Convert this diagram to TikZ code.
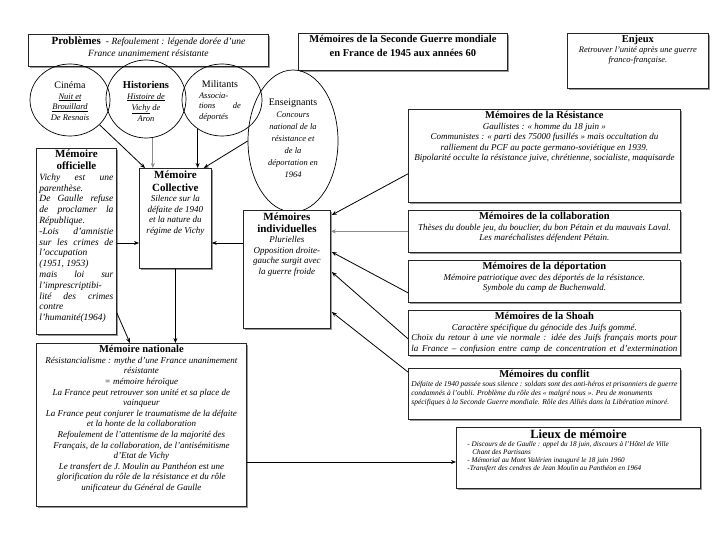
\documentclass[tikz,border=0pt]{standalone}
\usepackage{fontspec}
\setmainfont{Liberation Serif}
\usetikzlibrary{arrows.meta,calc,shapes.geometric,shadows}
\newcommand\ttlfont{\fontsize{10.5}{12.5}\selectfont\bfseries}
\newcommand\bdfont{\fontsize{9}{10.5}\selectfont\itshape}
\newcommand\Jl[1]{\makebox[\linewidth][s]{#1}\par}
\newcommand\Ll[1]{\makebox[\linewidth][l]{#1}\par}
\tikzset{
  box/.style={draw=black!85, line width=0.8pt, fill=white, inner xsep=3pt, inner ysep=0pt,
    anchor=north west, drop shadow={shadow xshift=1.2pt, shadow yshift=-1.2pt, fill=black!40, opacity=1}},
  circ/.style={draw=black, line width=0.7pt, ellipse, inner sep=0pt},
  txt/.style={inner sep=0pt},
  conn/.style={line width=0.8pt, draw=black, -{Stealth[length=5pt,width=4pt]}},
  gconn/.style={conn, draw=black!45},
}
\newcommand\mybox[6]{\node[box,minimum width=#4pt,minimum height=#5pt] (#1) at (#2,#3)
  {\parbox[c][#5pt][t]{\dimexpr#4pt-6pt\relax}{\centering\vspace*{2pt}#6\par}};}
\begin{document}
\begin{tikzpicture}[x=1pt,y=-1pt]
\fill[white] (0,0) rectangle (720,540);
\useasboundingbox (0,0) rectangle (720,540);

% top row
\mybox{prob}{28}{34}{240}{32}{{\fontsize{11}{12}\selectfont\bfseries Problèmes} \ {\fontsize{9.5}{11}\selectfont -} {\fontsize{9.5}{11}\selectfont\itshape Refoulement : légende dorée d'une\par France unanimement résistante}}
\mybox{title}{298}{33}{209}{37}{\fontsize{10.5}{14}\selectfont\bfseries Mémoires de la Seconde Guerre mondiale\par en France de 1945 aux années 60}
\mybox{enjeux}{567}{33}{141}{55}{{\ttlfont Enjeux\par}\fontsize{8.5}{10}\selectfont\itshape Retrouver l'unité après une guerre\par franco-française.}

% circles
\node[circ, minimum width=80pt, minimum height=72pt] (cinema) at (70,100) {};
\node[txt] (cinematxt) at (70,101) {\parbox{70pt}{\centering\fontsize{10}{11.5}\selectfont Cinéma\par
  \fontsize{8.5}{10.5}\selectfont\itshape\underline{Nuit et}\par\underline{Brouillard}\par De Resnais\par}};
\node[circ, minimum width=80pt, minimum height=78pt] (hist) at (146,99) {};
\node[txt] (histtxt) at (146,101) {\parbox{70pt}{\centering\fontsize{10.5}{12}\selectfont\bfseries Historiens\par
  \fontsize{8.5}{11}\selectfont\mdseries\itshape\underline{Histoire de}\par\underline{Vichy} de\par Aron\par}};
\node[circ, minimum width=80pt, minimum height=72pt] (milit) at (222,100) {};
\node[txt] (milittxt) at (220,101) {\parbox{42pt}{\centering\fontsize{10}{11.5}\selectfont Militants\par
  \fontsize{8.5}{10.5}\selectfont\itshape\Ll{Associa-}\Jl{tions de}\Ll{déportés}}};
\node[circ, minimum width=90pt, minimum height=142pt] (enseig) at (293,141) {};
\node[txt] (enseigtxt) at (293,138) {\parbox{80pt}{\centering\fontsize{10}{12.5}\selectfont Enseignants\par
  \fontsize{8.5}{12}\selectfont\itshape Concours\par national de la\par résistance et\par de la\par déportation en\par 1964\par}};

% left column
\node[box,minimum width=80pt,minimum height=186pt] (offic) at (36,148)
  {\parbox[c][186pt][t]{74pt}{\centering\vspace*{1pt}{\fontsize{11}{12.5}\selectfont\bfseries Mémoire\par officielle\par}
  \fontsize{9.5}{10.8}\selectfont\itshape
  \Jl{Vichy est une}\Ll{parenthèse.}\Jl{De Gaulle refuse}\Jl{de proclamer la}\Ll{République.}
  \Jl{-Lois d'amnistie}\Jl{sur les crimes de}\Ll{l'occupation}\Ll{(1951, 1953)}\Jl{mais loi sur}
  \Ll{l'imprescriptibi-}\Jl{lité des crimes}\Ll{contre}\Ll{l'humanité(1964)}}};
\mybox{collec}{139}{168}{72}{100}{{\fontsize{11}{13}\selectfont\bfseries Mémoire\par Collective\par}\bdfont Silence sur la\par défaite de 1940\par et la nature du\par régime de Vichy}
\mybox{indiv}{243}{210}{87}{118}{{\fontsize{11}{12}\selectfont\bfseries Mémoires\par individuelles\par}\bdfont Plurielles\par Opposition droite-\par gauche surgit avec\par la guerre froide}
\mybox{nation}{36}{343}{210}{163}{{\ttlfont Mémoire nationale\par}\fontsize{9}{10.6}\selectfont\itshape
  Résistancialisme : mythe d'une France unanimement\par résistante\par = mémoire héroïque\par
  La France peut retrouver son unité et sa place de\par vainqueur\par
  La France peut conjurer le traumatisme de la défaite\par et la honte de la collaboration\par
  Refoulement de l'attentisme de la majorité des\par Français, de la collaboration, de l'antisémitisme\par d'Etat de Vichy\par
  Le transfert de J. Moulin au Panthéon est une\par glorification du rôle de la résistance et du rôle\par unificateur du Général de Gaulle}

% right column
\mybox{resist}{408}{109}{272}{93}{{\ttlfont Mémoires de la Résistance\par}\bdfont Gaullistes : «~homme du 18 juin~»\par
  Communistes : «~parti des 75000 fusillés~» mais occultation du\par
  ralliement du PCF au pacte germano-soviétique en 1939.\par
  Bipolarité occulte la résistance juive, chrétienne, socialiste, maquisarde}
\mybox{collab}{408}{210}{272}{42}{{\ttlfont Mémoires de la collaboration\par}\bdfont Thèses du double jeu, du bouclier, du bon Pétain et du mauvais Laval.\par Les maréchalistes défendent Pétain.}
\mybox{deport}{408}{260}{272}{42}{{\ttlfont Mémoires de la déportation\par}\bdfont Mémoire patriotique avec des déportés de la résistance.\par Symbole du camp de Buchenwald.}
\mybox{shoah}{408}{310}{272}{45}{{\ttlfont Mémoires de la Shoah\par}\bdfont Caractère spécifique du génocide des Juifs gommé.\par
  \Jl{Choix du retour à une vie normale : idée des Juifs français morts pour}\Jl{la France -- confusion entre camp de concentration et d'extermination}}
\mybox{conflit}{408}{368}{272}{51}{{\ttlfont Mémoires du conflit\par}\fontsize{7.5}{9}\selectfont\itshape\raggedright
  Défaite de 1940 passée sous silence : soldats sont des anti-héros et prisonniers de guerre\par
  condamnés à l'oubli. Problème du rôle des «~malgré nous~». Peu de monuments\par
  spécifiques à la Seconde Guerre mondiale. Rôle des Alliés dans la Libération minoré.}
\mybox{lieux}{456}{427}{244}{61}{{\fontsize{12.5}{13.5}\selectfont\bfseries Lieux de mémoire\par}\fontsize{7.2}{8.2}\selectfont\itshape\raggedright\leftskip=8pt
  - Discours de de Gaulle : appel du 18 juin, discours à l'Hôtel de Ville\par
  \hspace*{5pt}Chant des Partisans\par
  - Mémorial au Mont Valérien inauguré le 18 juin 1960\par
  -Transfert des cendres de Jean Moulin au Panthéon en 1964}

% connectors
\coordinate (ya) at (0,243);
\coordinate (yl) at (0,462);
\draw[conn] (offic.east |- ya) -- (collec.west |- ya);
\draw[conn] (indiv.west |- ya) -- (collec.east |- ya);
\draw[conn] (collec.south) -- (collec.south |- nation.north);
\draw[conn] ($(offic.south east)+(0,-22)$) -- ($(nation.north west)+(94,0)$);
\draw[conn] (nation.east |- yl) -- (lieux.west |- yl);
\draw[conn] (cinema.-40) -- ($(collec.north west)+(6,0)$);
\draw[gconn] (hist.-80) -- (hist.-80 |- collec.north);
\draw[conn] (milit.-130) -- (milit.-130 |- collec.north);
\draw[conn] (enseig.180) -- ($(collec.north east)+(-8,0)$);
\draw[conn] ($(resist.south west)+(0,-29)$) -- ($(indiv.north east)+(1,5)$);
\draw[gconn] (collab.west) -- (collab.west -| indiv.east);
\draw[conn] ($(deport.south west)+(0,-10)$) -- ($(indiv.north east)+(1,42)$);
\draw[conn] ($(shoah.south west)+(0,-17)$) -- ($(indiv.north east)+(1,62)$);
\draw[conn] ($(conflit.north west)+(0,4)$) -- ($(indiv.north east)+(1,102)$);
\end{tikzpicture}
\end{document}
